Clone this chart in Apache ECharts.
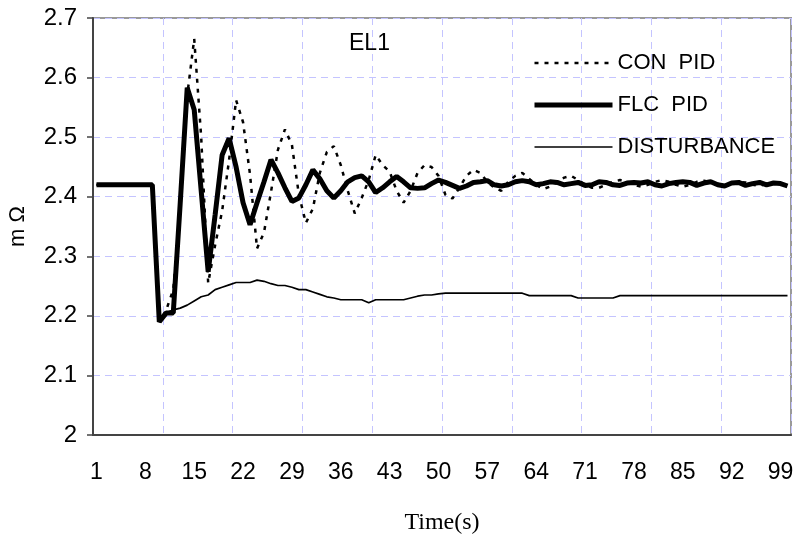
<!DOCTYPE html>
<html>
<head>
<meta charset="utf-8">
<script src="https://cdn.jsdelivr.net/npm/echarts@6/dist/echarts.min.js"></script>
<style>
    html, body { margin: 0; padding: 0; background: #fff; }
    #chart { width: 796px; height: 538px; }
</style>
</head>
<body>
<div id="chart"></div>
<script>
// time steps 1..100, label shown every 7th
var categories = [];
for (var i = 1; i <= 100; i++) { categories.push(String(i)); }

var series_name = ['CON  PID', 'FLC  PID', 'DISTURBANCE'];

var conPid = [
    2.42, 2.42, 2.42, 2.42, 2.42, 2.42, 2.42, 2.42, 2.42, 2.19,
    2.21, 2.244, 2.378, 2.57, 2.665, 2.50, 2.255, 2.319, 2.376, 2.462,
    2.562, 2.525, 2.437, 2.313, 2.34, 2.408, 2.479, 2.513, 2.487, 2.403,
    2.356, 2.38, 2.44, 2.475, 2.485, 2.453, 2.41, 2.372, 2.398, 2.428,
    2.47, 2.453, 2.442, 2.41, 2.39, 2.41, 2.44, 2.453, 2.45, 2.435,
    2.403, 2.397, 2.415, 2.435, 2.445, 2.44, 2.425, 2.415, 2.41, 2.425,
    2.435, 2.44, 2.43, 2.42, 2.413, 2.417, 2.425, 2.432, 2.435, 2.428,
    2.42, 2.415, 2.415, 2.42, 2.425, 2.428, 2.425, 2.42, 2.417, 2.42,
    2.425, 2.428, 2.425, 2.42, 2.417, 2.42, 2.425, 2.427, 2.424, 2.42,
    2.418, 2.422, 2.425, 2.424, 2.42, 2.418, 2.422, 2.424, 2.421, 2.419
];

var flcPid = [
    2.42, 2.42, 2.42, 2.42, 2.42, 2.42, 2.42, 2.42, 2.42, 2.19,
    2.205, 2.205, 2.39, 2.583, 2.546, 2.41, 2.274, 2.37, 2.47, 2.498,
    2.45, 2.39, 2.353, 2.39, 2.425, 2.462, 2.44, 2.415, 2.392, 2.398,
    2.42, 2.445, 2.43, 2.41, 2.398, 2.41, 2.425, 2.432, 2.435, 2.425,
    2.407, 2.415, 2.425, 2.434, 2.425, 2.415, 2.414, 2.415, 2.422, 2.428,
    2.424, 2.419, 2.414, 2.418, 2.424, 2.425, 2.427, 2.42, 2.418, 2.42,
    2.425, 2.427, 2.425, 2.42, 2.422, 2.425, 2.424, 2.42, 2.422, 2.424,
    2.419, 2.42, 2.425, 2.424, 2.42, 2.419, 2.423, 2.424, 2.423, 2.425,
    2.42, 2.418, 2.422, 2.424, 2.425, 2.424, 2.419, 2.423, 2.425, 2.42,
    2.418, 2.423, 2.424, 2.419, 2.422, 2.424, 2.42, 2.423, 2.422, 2.418
];

var disturbance = [
    2.42, 2.42, 2.42, 2.42, 2.42, 2.42, 2.42, 2.42, 2.42, 2.19,
    2.205, 2.21, 2.213, 2.218, 2.225, 2.232, 2.235, 2.244, 2.248, 2.252,
    2.256, 2.256, 2.256, 2.26, 2.258, 2.254, 2.251, 2.251, 2.248, 2.244,
    2.244, 2.24, 2.236, 2.232, 2.23, 2.227, 2.227, 2.227, 2.227, 2.222,
    2.227, 2.227, 2.227, 2.227, 2.227, 2.23, 2.233, 2.235, 2.235, 2.237,
    2.238, 2.238, 2.238, 2.238, 2.238, 2.238, 2.238, 2.238, 2.238, 2.238,
    2.238, 2.238, 2.234, 2.234, 2.234, 2.234, 2.234, 2.234, 2.234, 2.23,
    2.23, 2.23, 2.23, 2.23, 2.23, 2.234, 2.234, 2.234, 2.234, 2.234,
    2.234, 2.234, 2.234, 2.234, 2.234, 2.234, 2.234, 2.234, 2.234, 2.234,
    2.234, 2.234, 2.234, 2.234, 2.234, 2.234, 2.234, 2.234, 2.234, 2.234
];

var myChart = echarts.init(document.getElementById('chart'), null, {renderer: 'canvas'});

var gridLine = {color: '#c4c4ff', width: 1, type: [7, 5]};
var dotted = {color: '#000', width: 2.5, type: [4, 6]};
var thick = {color: '#000', width: 5, type: 'solid'};
var thin = {color: '#000', width: 1.7, type: 'solid'};

var option = {
    backgroundColor: '#fff',
    animation: false,
    title: {
        text: 'EL1',
        left: 344,
        top: 27,
        textStyle: {fontFamily: 'Liberation Sans', fontSize: 23, fontWeight: 'normal', color: '#000'}
    },
    grid: {
        left: 93, right: 5, top: 18, bottom: 103,
        outerBoundsMode: 'none',
        show: true, borderColor: '#999', borderWidth: 2, backgroundColor: '#fff'
    },
    legend: {
        orient: 'vertical',
        left: 532,
        top: 52,
        padding: 0,
        itemWidth: 78,
        itemHeight: 22,
        itemGap: 20,
        selectedMode: false,
        itemStyle: {opacity: 0},
        lineStyle: {width: 'inherit'},
        textStyle: {fontFamily: 'Liberation Sans', fontSize: 22, color: '#000'},
        data: [
            {name: series_name[0], lineStyle: dotted},
            {name: series_name[1], lineStyle: thick},
            {name: series_name[2], lineStyle: thin}
        ]
    },
    xAxis: {
        type: 'category',
        data: categories,
        boundaryGap: true,
        name: 'Time(s)',
        nameLocation: 'middle',
        nameGap: 76,
        nameTextStyle: {fontFamily: 'Liberation Serif', fontSize: 24, color: '#000'},
        axisLine: {lineStyle: {color: '#444', width: 2}},
        axisTick: {interval: 9, length: 7, lineStyle: {color: '#444', width: 1.5}},
        axisLabel: {interval: 6, margin: 26, fontFamily: 'Liberation Sans', fontSize: 23, color: '#000'},
        splitLine: {show: true, interval: 9, lineStyle: gridLine}
    },
    yAxis: {
        type: 'value',
        min: 2,
        max: 2.7,
        interval: 0.1,
        name: 'm Ω',
        nameLocation: 'middle',
        nameRotate: 90,
        nameGap: 64,
        nameTextStyle: {fontFamily: 'Liberation Sans', fontSize: 22, color: '#000'},
        axisLine: {show: true, lineStyle: {color: '#444', width: 2}},
        axisTick: {show: true, length: 6, lineStyle: {color: '#444', width: 1.5}},
        axisLabel: {margin: 16, fontFamily: 'Liberation Sans', fontSize: 24, color: '#000'},
        splitLine: {show: true, lineStyle: gridLine}
    },
    series: [
        {
            name: series_name[0],
            type: 'line',
            data: conPid,
            symbol: 'none',
            lineStyle: dotted,
            itemStyle: {color: '#000'},
            z: 2
        },
        {
            name: series_name[1],
            type: 'line',
            data: flcPid,
            symbol: 'none',
            lineStyle: thick,
            itemStyle: {color: '#000'},
            z: 3
        },
        {
            name: series_name[2],
            type: 'line',
            data: disturbance,
            symbol: 'none',
            lineStyle: thin,
            itemStyle: {color: '#000'},
            z: 4
        }
    ]
};

myChart.setOption(option);
</script>
</body>
</html>
